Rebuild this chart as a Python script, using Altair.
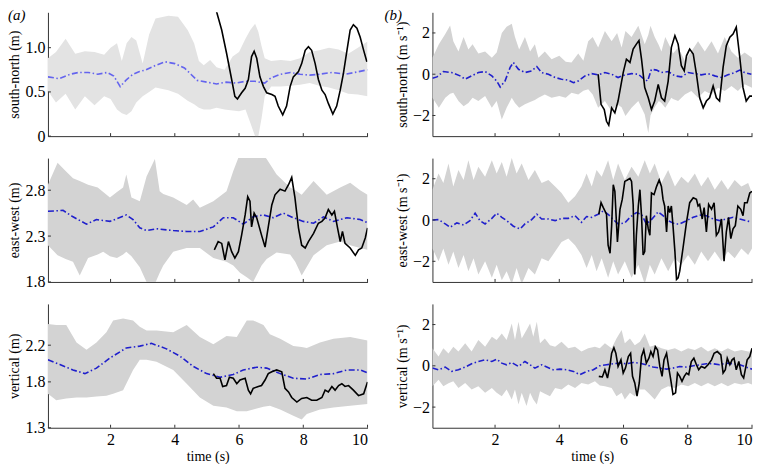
import altair as alt
import pandas as pd

FONT = "Liberation Serif"
W, H = 320, 124

# ---------------- (a) south-north (m) ----------------
a1_band_t = [0.05,0.3,0.6,0.9,1.2,1.5,1.8,2.0,2.2,2.35,2.5,2.65,2.8,3.0,3.2,3.4,3.8,4.1,4.4,4.6,4.75,4.9,5.1,5.3,5.55,5.8,6.0,6.2,6.35,6.5,6.6,6.7,6.8,7.0,7.3,7.6,7.9,8.2,8.5,8.8,9.1,9.4,9.7,10.0]
a1_band_lo = [0.51,0.38,0.48,0.30,0.45,0.35,0.45,0.42,0.30,0.26,0.24,0.28,0.38,0.45,0.50,0.55,0.52,0.48,0.40,0.36,0.32,0.30,0.30,0.32,0.30,0.29,0.28,0.30,0.15,0.0,0.0,0.20,0.45,0.56,0.56,0.57,0.58,0.60,0.57,0.55,0.52,0.48,0.47,0.45]
a1_band_hi = [0.88,0.95,1.10,0.93,0.96,0.95,0.92,1.00,1.05,0.85,1.05,1.12,1.08,0.82,1.15,1.33,1.36,1.35,1.20,1.05,0.85,0.80,0.86,0.78,0.75,0.90,0.95,1.10,1.20,1.27,1.18,1.02,0.88,0.85,0.86,0.85,0.88,0.95,0.97,1.00,0.98,0.93,1.00,1.07]
a1_mean_t = [0.05,0.4,0.75,1.0,1.3,1.6,1.9,2.1,2.3,2.5,2.7,2.9,3.1,3.4,3.7,4.0,4.3,4.5,4.7,5.0,5.3,5.6,5.9,6.2,6.5,6.8,7.0,7.3,7.6,7.9,8.2,8.5,8.9,9.3,9.6,10.0]
a1_mean_v = [0.67,0.65,0.70,0.72,0.72,0.70,0.72,0.68,0.56,0.64,0.70,0.73,0.75,0.80,0.84,0.82,0.77,0.70,0.63,0.61,0.59,0.61,0.60,0.62,0.62,0.60,0.66,0.70,0.72,0.70,0.69,0.70,0.72,0.70,0.72,0.75]
a1_obs_t = [5.29,5.46,5.61,5.77,5.87,5.95,6.08,6.19,6.29,6.39,6.47,6.55,6.65,6.76,6.86,7.02,7.12,7.22,7.36,7.48,7.59,7.69,7.85,7.95,8.06,8.16,8.26,8.37,8.47,8.58,8.68,8.78,8.92,9.04,9.15,9.25,9.36,9.46,9.56,9.67,9.77,9.88,9.98]
a1_obs_v = [1.42,1.20,0.94,0.64,0.45,0.42,0.49,0.54,0.64,0.90,0.96,0.88,0.67,0.56,0.49,0.47,0.45,0.34,0.24,0.34,0.56,0.67,0.73,0.82,0.97,1.01,0.97,0.82,0.64,0.52,0.47,0.37,0.25,0.34,0.52,0.71,0.97,1.20,1.26,1.22,1.12,0.97,0.84]

# ---------------- (a) east-west (m) ----------------
a2_band_t = [0.05,0.35,0.6,0.83,1.04,1.3,1.6,1.77,1.98,2.2,2.39,2.49,2.65,2.91,3.12,3.38,3.53,3.64,3.95,4.37,4.57,4.78,5.2,5.61,5.82,6.03,6.24,6.44,6.7,6.86,7.17,7.59,7.75,7.95,8.32,8.73,9.15,9.46,9.77,10.0]
a2_band_lo = [2.20,2.09,2.05,2.02,1.87,2.06,2.10,2.13,2.08,2.06,2.10,2.13,2.08,1.96,1.80,1.78,1.90,1.98,2.13,2.17,2.17,2.17,2.06,2.02,1.98,1.90,1.85,1.80,1.98,2.05,2.12,2.10,2.02,1.87,2.09,2.20,2.24,2.20,2.17,2.15]
a2_band_hi = [2.86,3.10,3.01,2.93,2.90,2.86,2.83,2.78,2.72,2.78,2.83,2.97,2.72,2.68,2.95,3.14,2.79,2.76,2.72,2.64,2.70,2.61,2.68,2.79,3.01,3.20,3.20,3.20,3.20,3.14,2.97,2.83,2.80,2.75,2.90,2.75,2.83,2.88,2.80,2.75]
a2_mean_t = [0.05,0.52,0.83,1.25,1.56,1.98,2.49,2.70,2.91,3.12,3.43,3.95,4.37,4.78,5.20,5.51,5.82,6.13,6.44,6.76,7.07,7.38,7.69,8.00,8.32,8.63,8.94,9.36,9.77,9.98]
a2_mean_v = [2.57,2.58,2.51,2.43,2.48,2.46,2.53,2.48,2.39,2.36,2.38,2.36,2.35,2.35,2.40,2.50,2.50,2.43,2.51,2.53,2.50,2.55,2.50,2.46,2.44,2.51,2.46,2.50,2.48,2.45]
a2_obs_t = [5.23,5.35,5.46,5.56,5.67,5.77,5.87,5.98,6.08,6.19,6.27,6.34,6.39,6.47,6.55,6.70,6.81,6.91,7.02,7.12,7.28,7.43,7.54,7.64,7.74,7.85,7.95,8.06,8.16,8.32,8.47,8.58,8.68,8.78,8.89,8.97,9.06,9.15,9.22,9.30,9.46,9.62,9.72,9.82,9.93,10.0]
a2_obs_v = [2.15,2.24,2.22,2.04,2.24,2.13,2.06,2.13,2.31,2.53,2.73,2.68,2.40,2.55,2.50,2.31,2.18,2.40,2.64,2.75,2.81,2.79,2.86,2.94,2.72,2.39,2.20,2.17,2.24,2.33,2.44,2.46,2.50,2.59,2.53,2.57,2.40,2.24,2.35,2.22,2.17,2.09,2.15,2.17,2.28,2.39]

# ---------------- (a) vertical (m) ----------------
a3_band_t = [0.05,0.31,0.62,0.94,1.25,1.56,1.87,2.08,2.39,2.70,2.91,3.12,3.43,3.95,4.37,4.78,5.20,5.61,5.93,6.24,6.44,6.76,6.96,7.28,7.69,7.95,8.11,8.52,8.94,9.46,10.0]
a3_band_lo = [1.67,1.60,1.62,1.63,1.63,1.64,1.65,1.67,1.71,1.93,2.04,2.04,2.02,1.93,1.78,1.63,1.54,1.52,1.48,1.48,1.50,1.53,1.54,1.50,1.43,1.39,1.45,1.50,1.52,1.54,1.56]
a3_band_hi = [2.43,2.42,2.42,2.23,2.15,2.23,2.34,2.47,2.49,2.47,2.40,2.36,2.36,2.34,2.42,2.29,2.21,2.30,2.29,2.47,2.47,2.42,2.32,2.27,2.19,2.18,2.17,2.23,2.27,2.29,2.25]
a3_mean_t = [0.05,0.42,0.83,1.20,1.56,1.98,2.49,2.91,3.27,3.74,4.16,4.57,4.99,5.41,5.82,6.13,6.55,6.86,7.28,7.69,8.11,8.52,8.94,9.36,9.77,10.0]
a3_mean_v = [2.04,1.99,1.93,1.89,1.95,2.06,2.17,2.19,2.22,2.16,2.08,1.97,1.89,1.85,1.88,1.93,1.96,1.95,1.89,1.84,1.83,1.88,1.89,1.93,1.93,1.90]
a3_obs_t = [5.20,5.30,5.41,5.49,5.61,5.70,5.82,5.93,6.03,6.19,6.29,6.36,6.44,6.60,6.70,6.81,6.91,7.02,7.17,7.33,7.43,7.54,7.64,7.80,7.95,8.11,8.26,8.42,8.58,8.68,8.78,8.89,8.99,9.10,9.20,9.30,9.41,9.56,9.72,9.88,10.0]
a3_obs_v = [1.89,1.84,1.84,1.75,1.76,1.85,1.84,1.78,1.82,1.84,1.71,1.67,1.73,1.75,1.76,1.82,1.89,1.91,1.93,1.91,1.73,1.69,1.63,1.58,1.62,1.63,1.60,1.60,1.63,1.71,1.69,1.75,1.71,1.76,1.78,1.75,1.76,1.71,1.65,1.67,1.80]

# ---------------- (b) south-north (m s-1) ----------------
b1_band_t = [0.05,0.25,0.45,0.60,0.70,0.86,1.02,1.17,1.30,1.48,1.69,1.90,2.05,2.21,2.36,2.52,2.62,2.75,2.93,3.09,3.24,3.35,3.55,3.76,4.00,4.20,4.38,4.59,4.75,4.90,5.04,5.21,5.42,5.63,5.80,5.94,6.06,6.25,6.46,6.66,6.77,6.84,6.97,7.10,7.18,7.30,7.49,7.54,7.70,7.91,8.11,8.32,8.53,8.74,8.94,9.15,9.36,9.56,9.77,10.0]
b1_band_lo = [-1.14,-1.63,-1.14,-0.95,-0.9,-1.3,-1.55,-1.4,-1.14,-1.3,-1.06,-1.63,-1.3,-2.2,-1.63,-1.14,-1.4,-1.63,-1.46,-1.35,-1.25,-1.14,-0.98,-1.14,-1.06,-1.14,-0.9,-0.98,-0.8,-0.73,-0.98,-1.63,-1.3,-1.79,-1.46,-1.6,-2.03,-1.63,-1.3,-1.95,-2.85,-2.0,-1.6,-1.3,-1.4,-1.63,-1.14,-1.2,-1.3,-0.98,-0.81,-1.14,-0.81,-0.98,-0.65,-0.81,-0.57,-0.81,-0.49,-0.65]
b1_band_hi = [0.8,1.45,1.95,2.36,1.6,1.1,1.8,1.2,1.45,1.0,1.1,0.8,1.05,2.0,2.3,2.45,1.8,1.2,1.8,1.1,1.45,0.8,1.1,0.73,0.9,0.6,0.57,1.0,0.65,1.6,1.8,1.3,2.1,1.6,2.0,1.3,2.1,1.8,2.35,1.45,1.9,2.35,1.8,1.4,1.1,1.8,1.2,1.0,1.3,0.65,1.1,1.6,1.1,1.6,1.0,1.8,1.1,0.8,1.05,0.8]
b1_mean_t = [0.05,0.19,0.39,0.65,0.91,1.07,1.27,1.48,1.69,1.90,2.05,2.16,2.31,2.47,2.57,2.73,2.93,3.14,3.30,3.45,3.66,3.87,4.07,4.28,4.44,4.59,4.80,5.01,5.21,5.42,5.63,5.83,6.04,6.25,6.46,6.61,6.75,6.87,7.03,7.18,7.39,7.60,7.80,8.01,8.22,8.42,8.63,8.84,9.05,9.25,9.46,9.62,9.77,9.98]
b1_mean_v = [-0.2,-0.13,0.13,0.08,-0.08,-0.24,-0.08,0.08,0.13,-0.08,-0.33,-0.62,-0.33,0.33,0.57,0.24,0.08,0.16,0.37,0.08,0.0,-0.16,-0.24,-0.29,-0.41,-0.33,-0.08,0.03,-0.03,0.08,0.0,-0.16,-0.03,0.03,0.0,-0.2,-0.33,0.24,0.2,0.08,0.13,-0.08,-0.13,0.08,0.03,-0.03,0.03,-0.08,-0.16,-0.03,0.08,0.2,0.08,0.0]
b1_obs_t = [5.21,5.30,5.40,5.47,5.54,5.63,5.73,5.83,5.99,6.09,6.20,6.30,6.40,6.48,6.56,6.66,6.77,6.87,6.97,7.08,7.18,7.28,7.39,7.49,7.60,7.70,7.80,7.89,7.96,8.06,8.17,8.27,8.37,8.48,8.58,8.68,8.79,8.89,8.99,9.10,9.20,9.31,9.41,9.51,9.62,9.72,9.82,9.93,10.0]
b1_obs_v = [0.0,-1.46,-1.71,-2.28,-2.47,-1.63,-1.87,-1.3,0.08,0.73,0.57,1.22,1.46,1.63,0.73,-0.65,-1.14,-1.71,-1.3,-0.49,-1.14,-1.3,-0.33,1.3,1.87,1.46,0.41,0.16,0.89,1.22,0.98,0.0,-1.14,-1.63,-1.3,-1.14,-0.57,-1.14,-1.3,0.33,1.38,1.79,1.95,2.28,0.81,-0.65,-1.3,-1.06,-1.06]

# ---------------- (b) east-west (m s-1) ----------------
b2_band_t = [0.05,0.24,0.39,0.55,0.70,0.86,1.02,1.17,1.33,1.48,1.69,1.90,2.05,2.21,2.36,2.52,2.67,2.83,3.04,3.24,3.45,3.66,3.87,4.07,4.28,4.49,4.69,4.85,5.01,5.16,5.32,5.52,5.68,5.83,6.04,6.25,6.46,6.66,6.82,6.97,7.18,7.39,7.60,7.80,8.01,8.22,8.42,8.63,8.84,9.05,9.25,9.46,9.67,9.88,10.0]
b2_band_lo = [-1.38,-2.0,-1.38,-2.17,-1.53,-2.32,-1.69,-2.48,-1.85,-2.64,-2.0,-2.8,-2.17,-2.92,-2.48,-3.1,-2.32,-3.1,-2.32,-2.64,-1.85,-2.0,-1.53,-1.06,-0.9,-1.22,-1.69,-2.32,-1.69,-2.48,-1.85,-2.8,-2.0,-2.64,-2.0,-2.8,-2.17,-3.1,-2.17,-2.64,-1.85,-2.48,-1.85,-2.17,-1.69,-2.17,-1.53,-2.0,-1.53,-2.0,-1.53,-1.85,-1.38,-1.69,-1.38]
b2_band_hi = [1.47,2.26,1.79,2.74,1.63,2.42,1.94,2.9,1.94,2.58,2.1,2.9,2.26,2.81,2.1,3.0,2.26,2.74,1.94,2.42,1.79,1.94,1.63,1.31,0.84,1.15,1.63,2.26,1.63,2.42,2.1,2.9,1.94,2.74,1.94,2.58,2.1,2.9,2.26,2.74,1.79,2.42,1.63,2.1,1.79,2.26,1.63,2.1,1.47,1.94,1.47,1.94,1.63,1.79,1.31]
b2_mean_t = [0.05,0.24,0.45,0.60,0.81,1.02,1.22,1.38,1.53,1.69,1.90,2.05,2.21,2.36,2.57,2.78,2.93,3.14,3.30,3.45,3.66,3.87,4.07,4.28,4.49,4.69,4.85,5.01,5.21,5.37,5.52,5.68,5.83,6.04,6.20,6.40,6.56,6.71,6.87,7.08,7.23,7.39,7.60,7.75,7.96,8.17,8.37,8.58,8.79,8.99,9.20,9.41,9.62,9.82,9.98]
b2_mean_v = [0.0,0.02,-0.19,-0.35,-0.14,-0.24,-0.03,0.33,-0.03,-0.19,0.08,0.33,0.13,-0.03,-0.3,-0.43,-0.19,0.02,0.28,0.05,0.05,-0.03,0.08,0.08,0.21,-0.11,0.17,0.13,0.28,0.44,0.28,0.02,-0.19,-0.14,0.13,0.36,0.28,-0.19,0.02,0.4,0.21,-0.03,-0.19,-0.19,-0.03,0.13,0.24,0.21,0.05,-0.03,0.05,0.13,0.05,-0.03,-0.11]
b2_obs_t = [5.23,5.30,5.37,5.47,5.52,5.58,5.63,5.68,5.73,5.81,5.89,5.96,6.04,6.12,6.20,6.25,6.30,6.35,6.40,6.46,6.51,6.56,6.61,6.66,6.71,6.77,6.82,6.87,6.95,7.03,7.11,7.18,7.23,7.28,7.34,7.39,7.44,7.49,7.54,7.60,7.65,7.70,7.75,7.85,7.96,8.06,8.17,8.27,8.32,8.37,8.45,8.51,8.58,8.65,8.74,8.82,8.89,8.96,9.05,9.13,9.20,9.27,9.34,9.41,9.48,9.56,9.65,9.72,9.77,9.85,9.93,10.0]
b2_obs_v = [0.28,0.84,0.6,0.28,-1.22,-1.61,-0.27,1.71,1.39,-1.06,0.52,1.0,1.87,1.94,2.02,1.87,0.76,-2.64,-0.74,0.68,1.47,0.21,-1.69,-1.53,0.21,-0.43,-0.74,1.31,1.23,1.63,1.94,1.63,1.0,0.68,-0.58,0.68,0.36,0.68,-0.27,-1.53,-2.88,-2.8,-2.48,-1.38,-0.11,0.84,1.08,1.0,0.68,0.76,0.05,0.6,-0.58,0.76,0.52,0.84,-0.74,-0.58,0.05,-2.0,-0.58,0.13,-0.9,-0.43,-0.27,0.68,0.52,0.21,0.84,0.84,1.31,1.39]

# ---------------- (b) vertical (m s-1) ----------------
b3_band_t = [0.05,0.24,0.39,0.55,0.70,0.86,1.07,1.27,1.48,1.69,1.90,2.05,2.21,2.36,2.52,2.62,2.73,2.83,2.98,3.09,3.19,3.30,3.40,3.55,3.71,3.87,4.07,4.28,4.49,4.69,4.90,5.11,5.26,5.42,5.63,5.78,5.94,6.04,6.20,6.35,6.51,6.66,6.82,6.97,7.18,7.39,7.60,7.80,8.01,8.22,8.42,8.63,8.84,9.05,9.25,9.46,9.67,9.88,10.0]
b3_band_lo = [-0.99,-0.67,-0.99,-0.85,-0.75,-1.07,-0.83,-1.15,-0.99,-1.31,-1.07,-1.3,-1.47,-1.15,-1.63,-1.15,-1.87,-1.31,-1.95,-1.31,-1.63,-1.87,-1.23,-1.35,-1.47,-1.07,-1.15,-0.91,-1.07,-0.83,-0.91,-0.75,-0.95,-0.99,-1.07,-1.47,-1.31,-1.63,-1.31,-1.47,-1.15,-1.15,-1.39,-1.63,-1.15,-0.99,-1.07,-0.91,-0.99,-0.83,-0.99,-0.83,-0.99,-0.83,-0.99,-0.83,-0.91,-0.83,-0.91]
b3_band_hi = [0.85,0.45,0.85,0.6,0.93,0.69,1.09,0.69,1.25,0.93,1.41,1.25,1.57,1.25,2.05,1.25,2.13,1.33,1.73,2.05,1.41,2.13,1.09,1.33,1.0,0.93,1.17,0.85,0.93,0.69,0.85,0.93,0.85,1.09,0.85,1.33,1.73,1.09,1.33,1.0,1.17,1.57,0.93,1.0,0.85,0.77,0.85,0.69,0.85,0.77,0.93,0.69,0.85,0.69,0.85,0.69,0.77,0.69,0.69]
b3_mean_t = [0.05,0.24,0.45,0.65,0.86,1.07,1.27,1.48,1.69,1.90,2.05,2.21,2.36,2.52,2.73,2.93,3.09,3.24,3.45,3.61,3.81,4.02,4.23,4.44,4.64,4.85,5.06,5.26,5.47,5.68,5.89,6.09,6.30,6.51,6.71,6.92,7.13,7.34,7.54,7.75,7.96,8.17,8.37,8.58,8.79,8.99,9.20,9.41,9.62,9.82,10.0]
b3_mean_v = [-0.11,-0.19,-0.06,-0.27,-0.19,-0.06,0.1,0.21,0.29,0.21,0.32,0.13,0.05,0.16,-0.03,0.21,0.05,-0.11,0.05,-0.06,-0.19,-0.16,-0.19,-0.27,-0.43,-0.27,-0.19,0.0,0.05,0.1,0.13,0.1,0.16,0.13,0.05,-0.06,-0.11,-0.16,-0.11,-0.03,-0.06,0.0,0.05,0.1,0.1,0.05,0.13,0.1,0.05,-0.06,-0.16]
b3_obs_t = [5.23,5.34,5.42,5.50,5.58,5.63,5.70,5.76,5.83,5.92,5.99,6.06,6.15,6.22,6.28,6.35,6.42,6.49,6.56,6.63,6.71,6.79,6.85,6.92,6.99,7.06,7.13,7.20,7.26,7.34,7.41,7.47,7.54,7.62,7.68,7.75,7.82,7.89,7.96,8.03,8.11,8.19,8.27,8.34,8.42,8.53,8.63,8.74,8.82,8.92,9.03,9.10,9.17,9.23,9.31,9.38,9.44,9.51,9.59,9.67,9.74,9.80,9.85,9.93,10.0]
b3_obs_v = [-0.51,-0.54,-0.19,-0.59,0.05,0.61,0.88,0.61,-0.03,0.29,-0.35,-0.11,0.45,0.61,-0.51,-0.83,-1.47,-0.83,0.45,0.77,0.13,0.37,0.69,0.45,0.93,0.77,-0.03,-0.51,0.29,0.61,-0.11,-0.67,-1.39,-1.31,-0.35,-0.51,-0.75,-0.51,-0.35,-0.43,0.21,0.37,0.05,-0.19,-0.03,-0.11,0.05,0.29,0.61,0.69,0.53,-0.35,-0.19,0.37,0.05,0.29,0.37,-0.19,0.21,-0.43,-0.59,-0.11,0.29,0.45,0.85]

x_ticks = [2, 4, 6, 8, 10]
x_domain = [0.05, 10]

LEFT_FMT = "datum.value == 0 ? '0' : format(datum.value, '.1f')"
AXIS_COLOR = "#333333"


def panel(band, mean, obs, ydom, yvals, ytitle, bottom, band_color, mean_color,
          label=None, label_x=-40, left=True):
    xscale = alt.Scale(domain=x_domain, nice=False, zero=False)
    yscale = alt.Scale(domain=ydom, nice=False, zero=False)
    common = dict(labelFont=FONT, titleFont=FONT, labelFontSize=16, titleFontSize=14,
                  titleFontWeight="normal", labelColor="black", titleColor="black",
                  domainColor=AXIS_COLOR, ticks=False, grid=False)
    if bottom:
        xaxis = alt.Axis(values=x_ticks, title="time (s)", labelPadding=4,
                         titlePadding=2, **common)
    else:
        xaxis = alt.Axis(values=x_ticks, title=None, labels=False, **common)
    yargs = dict(values=yvals, title=ytitle, labelPadding=3, titlePadding=3, **common)
    if left:
        yargs["labelExpr"] = LEFT_FMT
    yaxis = alt.Axis(**yargs)

    def xy(yfield):
        return dict(x=alt.X("t:Q", scale=xscale, axis=xaxis),
                    y=alt.Y(f"{yfield}:Q", scale=yscale, axis=yaxis))

    bdf = pd.DataFrame({"t": band[0], "lo": band[1], "hi": band[2]})
    mdf = pd.DataFrame({"t": mean[0], "v": mean[1]})
    odf = pd.DataFrame({"t": obs[0], "v": obs[1]})
    area = alt.Chart(bdf).mark_area(color=band_color, opacity=1, clip=True).encode(
        **xy("lo"), y2="hi:Q")
    mline = alt.Chart(mdf).mark_line(color=mean_color, strokeWidth=1.6,
                                     strokeDash=[6, 2.5, 1.5, 2.5], clip=True).encode(**xy("v"))
    oline = alt.Chart(odf).mark_line(color="black", strokeWidth=1.6, clip=True).encode(**xy("v"))
    # small inward ticks
    xt = alt.Chart(pd.DataFrame({"t": x_ticks})).mark_rule(color=AXIS_COLOR, strokeWidth=1).encode(
        x=alt.X("t:Q", scale=xscale, axis=xaxis), y=alt.value(H), y2=alt.value(H - 3))
    yt = alt.Chart(pd.DataFrame({"v": yvals})).mark_rule(color=AXIS_COLOR, strokeWidth=1).encode(
        y=alt.Y("v:Q", scale=yscale, axis=yaxis), x=alt.value(0), x2=alt.value(3))
    layers = [area, mline, oline, xt, yt]
    if label:
        tdf = pd.DataFrame({"s": [label]})
        txt = alt.Chart(tdf).mark_text(font=FONT, fontStyle="italic", fontSize=15,
                                       align="left", baseline="top", color="black").encode(
            x=alt.value(label_x), y=alt.value(-4), text="s:N")
        layers.append(txt)
    return alt.layer(*layers).properties(width=W, height=H)


A_BAND1 = "#e3e3e3"
A_BAND = "#d3d3d3"
BLUE1 = "#6464ee"
BLUE = "#1f1fcc"

a1 = panel((a1_band_t, a1_band_lo, a1_band_hi), (a1_mean_t, a1_mean_v), (a1_obs_t, a1_obs_v),
           [0, 1.4], [0, 0.5, 1.0], "south-north (m)", False, A_BAND1, BLUE1, label="(a)")
a2 = panel((a2_band_t, a2_band_lo, a2_band_hi), (a2_mean_t, a2_mean_v), (a2_obs_t, a2_obs_v),
           [1.8, 3.15], [1.8, 2.3, 2.8], "east-west (m)", False, A_BAND, BLUE)
a3 = panel((a3_band_t, a3_band_lo, a3_band_hi), (a3_mean_t, a3_mean_v), (a3_obs_t, a3_obs_v),
           [1.3, 2.65], [1.3, 1.8, 2.2], "vertical (m)", True, A_BAND, BLUE)

b1 = panel((b1_band_t, b1_band_lo, b1_band_hi), (b1_mean_t, b1_mean_v), (b1_obs_t, b1_obs_v),
           [-3, 3], [-2, 0, 2], "south-north (m s⁻¹)", False, A_BAND, BLUE,
           label="(b)", label_x=-48, left=False)
b2 = panel((b2_band_t, b2_band_lo, b2_band_hi), (b2_mean_t, b2_mean_v), (b2_obs_t, b2_obs_v),
           [-3, 3], [-2, 0, 2], "east-west (m s⁻¹)", False, A_BAND, BLUE, left=False)
b3 = panel((b3_band_t, b3_band_lo, b3_band_hi), (b3_mean_t, b3_mean_v), (b3_obs_t, b3_obs_v),
           [-3, 3], [-2, 0, 2], "vertical (m s⁻¹)", True, A_BAND, BLUE, left=False)

chart = alt.concat(a1, b1, a2, b2, a3, b3, columns=2, bounds="flush",
                   spacing={"row": 22, "column": 65}).properties(
    padding={"left": 0, "top": 0, "right": 0, "bottom": 0}
).configure_view(stroke=None)

chart.save("out.html", embed_options={"renderer": "svg", "actions": False})
